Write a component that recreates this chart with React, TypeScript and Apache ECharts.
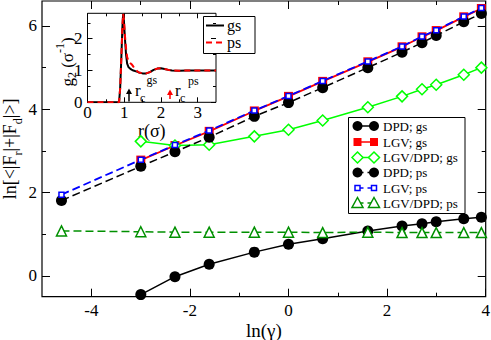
import React, { useEffect, useRef } from "react";
import * as echarts from "echarts";

// ---- main plot data (x = ln(gamma)) ----
const lnGamma = [-4.605, -2.996, -2.303, -1.609, -0.693, 0, 0.693, 1.609, 2.303, 2.708, 2.996, 3.555, 3.912];
const dpdGs = [null, -0.45, -0.02, 0.28, 0.57, 0.76, 0.89, 1.08, 1.2, 1.25, 1.3, 1.37, 1.41];
const lgvGs = [null, 2.78, 3.13, 3.47, 3.96, 4.31, 4.67, 5.14, 5.5, 5.74, 5.89, 6.22, 6.42];
const lgvDpdGs = [null, 3.23, 3.13, 3.15, 3.35, 3.51, 3.73, 4.05, 4.31, 4.48, 4.59, 4.83, 5.0];
const dpdPs = [1.81, 2.63, 2.98, 3.33, 3.83, 4.16, 4.52, 5.0, 5.37, 5.6, 5.77, 6.1, 6.3];
const lgvPs = [1.95, 2.79, 3.14, 3.49, 3.97, 4.32, 4.68, 5.15, 5.51, 5.75, 5.9, 6.23, 6.43];
const lgvDpdPs = [1.08, 1.06, 1.05, 1.05, 1.05, 1.05, 1.04, 1.05, 1.04, 1.04, 1.04, 1.04, 1.04];

// ---- inset data: g2(r) ----
const rVals = [0, 0.5, 0.86, 0.89, 0.92, 0.95, 0.97, 0.99, 1.02, 1.05, 1.08, 1.12, 1.16, 1.2, 1.25, 1.3, 1.4, 1.5, 1.6, 1.7, 1.8, 1.9, 2.0, 2.1, 2.2, 2.3, 2.5, 2.7, 3.0, 3.5];
const gGs = [0, 0, 0, 0.45, 1.35, 2.35, 2.78, 2.6, 2.0, 1.5, 1.22, 1.1, 1.06, 1.03, 1.0, 0.98, 0.94, 0.91, 0.91, 0.95, 1.02, 1.06, 1.07, 1.05, 1.02, 1.0, 0.99, 1.0, 1.0, 1.0];
const gPs = [0, 0, 0, 0.45, 1.35, 2.35, 2.78, 2.62, 2.1, 1.7, 1.42, 1.29, 1.24, 1.2, 1.12, 1.03, 0.94, 0.91, 0.91, 0.95, 1.02, 1.06, 1.07, 1.05, 1.02, 1.0, 0.99, 1.0, 1.0, 1.0];

// ---- ticks ----
const xMajor = [-4, -2, 0, 2, 4];
const xMinor = [-3, -1, 1, 3];
const yMajor = [0, 2, 4, 6];
const yMinor = [1, 3, 5];
const inXMajor = [0, 1, 2, 3];
const inXMinor = [0.5, 1.5, 2.5];
const inYMajor = [0, 1, 2];
const inYMinor = [0.5, 1.5, 2.5];

const FONT = "Liberation Serif";
const GREEN = "#00ff00";
const DKGREEN = "#009000";

const pairs = (ys: (number | null)[]) =>
  lnGamma.map((x, i) => [x, ys[i]]).filter((p) => p[1] !== null);
const curve = (ys: number[]) => rVals.map((r, i) => [r, ys[i]]);

function axis(grid: number, min: number, max: number, pos: string, ticks: number[], len: number, labels: boolean, margin: number, extra: any = {}) {
  return {
    type: "value",
    gridIndex: grid,
    min,
    max,
    position: pos,
    nameMoveOverlap: false,
    axisLine: { show: false, onZero: false },
    splitLine: { show: false },
    axisTick: { show: true, inside: true, length: len, customValues: ticks, lineStyle: { color: "#000", width: 1 } },
    axisLabel: labels
      ? { show: true, customValues: ticks, margin, color: "#000", fontFamily: FONT, fontSize: 17 }
      : { show: false },
    ...extra,
  };
}

export default function App() {
  const ref = useRef<HTMLDivElement>(null);
  useEffect(() => {
    if (!ref.current) return;
    const chart = echarts.init(ref.current, null, { renderer: "svg" });

    const legendRows = [
      { name: "DPD; gs", y: 126, color: "#000", dash: false, sym: "circle" },
      { name: "LGV; gs", y: 142, color: "#ff0000", dash: false, sym: "square" },
      { name: "LGV/DPD; gs", y: 157.5, color: GREEN, dash: false, sym: "diamond" },
      { name: "DPD; ps", y: 172.5, color: "#000", dash: true, sym: "circle" },
      { name: "LGV; ps", y: 188, color: "#0000ff", dash: true, sym: "small" },
      { name: "LGV/DPD; ps", y: 203, color: DKGREEN, dash: true, sym: "triangle" },
    ];
    const symbolEl = (sym: string, cx: number, cy: number, color: string) => {
      if (sym === "circle") return { type: "circle", shape: { cx, cy, r: 5 }, style: { fill: color } };
      if (sym === "square") return { type: "rect", shape: { x: cx - 4, y: cy - 4, width: 8, height: 8 }, style: { fill: color } };
      if (sym === "small") return { type: "rect", shape: { x: cx - 2.5, y: cy - 2.5, width: 5, height: 5 }, style: { fill: "#fff", stroke: color, lineWidth: 1.5 } };
      if (sym === "diamond") return { type: "polygon", shape: { points: [[cx, cy - 5.5], [cx + 5.5, cy], [cx, cy + 5.5], [cx - 5.5, cy]] }, style: { fill: "#fff", stroke: color, lineWidth: 1.5 } };
      return { type: "polygon", shape: { points: [[cx, cy - 5.5], [cx + 5.5, cy + 4.5], [cx - 5.5, cy + 4.5]] }, style: { fill: "#fff", stroke: color, lineWidth: 1.5 } };
    };
    const legendEls: any[] = [
      { type: "rect", shape: { x: 348.5, y: 117.5, width: 116.5, height: 96 }, style: { fill: "#fff", stroke: "#000", lineWidth: 1 } },
    ];
    legendRows.forEach((r) => {
      legendEls.push({ type: "line", shape: { x1: 357.5, y1: r.y, x2: 374, y2: r.y }, style: { stroke: r.color, lineWidth: 1.5, lineDash: r.dash ? [6, 4] : null } });
      legendEls.push(symbolEl(r.sym, 357.5, r.y, r.color));
      legendEls.push(symbolEl(r.sym, 374, r.y, r.color));
      legendEls.push({ type: "text", x: 383, y: r.y, style: { text: r.name, fontFamily: FONT, fontSize: 13, fill: "#000", verticalAlign: "middle", align: "left" } });
    });

    const insetEls: any[] = [
      { type: "rect", shape: { x: 203.5, y: 16.5, width: 51.5, height: 37 }, style: { fill: "#fff", stroke: "#000", lineWidth: 1 } },
      { type: "line", shape: { x1: 206, y1: 25.5, x2: 224, y2: 25.5 }, style: { stroke: "#000", lineWidth: 2 } },
      { type: "line", shape: { x1: 206, y1: 42.5, x2: 224, y2: 42.5 }, style: { stroke: "#ff0000", lineWidth: 2, lineDash: [6, 4] } },
      { type: "text", x: 227, y: 25.5, style: { text: "gs", fontFamily: FONT, fontSize: 16, fill: "#000", verticalAlign: "middle" } },
      { type: "text", x: 227, y: 42.5, style: { text: "ps", fontFamily: FONT, fontSize: 16, fill: "#000", verticalAlign: "middle" } },
      // arrows
      { type: "line", shape: { x1: 129, y1: 101.5, x2: 129, y2: 92 }, style: { stroke: "#000", lineWidth: 1.5 } },
      { type: "polygon", shape: { points: [[129, 88.5], [132, 94], [126, 94]] }, style: { fill: "#000" } },
      { type: "line", shape: { x1: 170, y1: 99, x2: 170, y2: 93 }, style: { stroke: "#ff0000", lineWidth: 1.5 } },
      { type: "polygon", shape: { points: [[170, 89.5], [173, 95], [167, 95]] }, style: { fill: "#ff0000" } },
      { type: "text", x: 135, y: 90, style: { text: "r", fontFamily: FONT, fontSize: 17, fill: "#000", verticalAlign: "middle" } },
      { type: "text", x: 140, y: 98, style: { text: "c", fontFamily: FONT, fontSize: 12, fill: "#000", verticalAlign: "middle" } },
      { type: "text", x: 146.5, y: 80, style: { text: "gs", fontFamily: FONT, fontSize: 12, fill: "#000", verticalAlign: "middle" } },
      { type: "text", x: 175, y: 90, style: { text: "r", fontFamily: FONT, fontSize: 17, fill: "#000", verticalAlign: "middle" } },
      { type: "text", x: 180, y: 98, style: { text: "c", fontFamily: FONT, fontSize: 12, fill: "#000", verticalAlign: "middle" } },
      { type: "text", x: 188, y: 81, style: { text: "ps", fontFamily: FONT, fontSize: 12, fill: "#000", verticalAlign: "middle" } },
      // inset y-axis title
      {
        type: "text", x: 66, y: 62, rotation: Math.PI / 2,
        style: {
          text: "{a|g}{b|2}{a| (σ}{c|-1}{a|)}", align: "center", verticalAlign: "middle", fill: "#000",
          fontFamily: FONT, fontSize: 17,
          rich: {
            a: { fontFamily: FONT, fontSize: 17, lineHeight: 17, padding: [6, 0, 3, 0], fill: "#000" },
            b: { fontFamily: FONT, fontSize: 12, lineHeight: 12, padding: [13, 0, 1, 0], fill: "#000" },
            c: { fontFamily: FONT, fontSize: 12, lineHeight: 12, padding: [1, 0, 13, 0], fill: "#000" },
          },
        },
      },
    ];

    const option: any = {
      animation: false,
      backgroundColor: "#fff",
      textStyle: { fontFamily: FONT },
      grid: [
        { left: 42, top: 1, width: 443.7, height: 295.7, outerBoundsMode: "none", containLabel: false, show: true, borderColor: "#000", borderWidth: 1.2, backgroundColor: "transparent" },
        { left: 87.5, top: 13.3, width: 128.5, height: 89, outerBoundsMode: "none", containLabel: false, show: true, borderColor: "#000", borderWidth: 1, backgroundColor: "#fff" },
      ],
      xAxis: [
        axis(0, -5, 4, "bottom", xMajor, 8, true, 5, {
          name: "ln(γ)", nameLocation: "middle", nameGap: 24,
          nameTextStyle: { fontFamily: FONT, fontSize: 19, color: "#000" },
        }),
        axis(0, -5, 4, "bottom", xMinor, 4, false, 0),
        axis(0, -5, 4, "top", xMajor, 8, false, 0),
        axis(0, -5, 4, "top", xMinor, 4, false, 0),
        axis(1, 0, 3.5, "bottom", inXMajor, 5, true, 2, {
          name: "r(σ)", nameLocation: "middle", nameGap: 20,
          nameTextStyle: { fontFamily: FONT, fontSize: 18, color: "#000" },
        }),
        axis(1, 0, 3.5, "bottom", inXMinor, 3, false, 0),
        axis(1, 0, 3.5, "top", inXMajor, 5, false, 0),
        axis(1, 0, 3.5, "top", inXMinor, 3, false, 0),
      ],
      yAxis: [
        axis(0, -0.5, 6.6, "left", yMajor, 8, true, 5, {
          name: "{a|ln[<|F}{b|r}{a||+|F}{b|d}{a||>]}",
          nameLocation: "middle", nameGap: 21, nameRotate: 90,
          nameTextStyle: {
            fontFamily: FONT, fontSize: 18, color: "#000",
            rich: {
              a: { fontFamily: FONT, fontSize: 18, lineHeight: 18, padding: [2, 0, 6, 0], color: "#000" },
              b: { fontFamily: FONT, fontSize: 12, lineHeight: 12, padding: [13, 0, 1, 0], color: "#000" },
            },
          },
        }),
        axis(0, -0.5, 6.6, "left", yMinor, 4, false, 0),
        axis(0, -0.5, 6.6, "right", yMajor, 8, false, 0),
        axis(0, -0.5, 6.6, "right", yMinor, 4, false, 0),
        axis(1, 0, 2.8, "left", inYMajor, 5, true, 5),
        axis(1, 0, 2.8, "left", inYMinor, 3, false, 0),
        axis(1, 0, 2.8, "right", inYMajor, 5, false, 0),
        axis(1, 0, 2.8, "right", inYMinor, 3, false, 0),
      ],
      series: [
        {
          name: "DPD; gs", type: "line", xAxisIndex: 0, yAxisIndex: 0, data: pairs(dpdGs),
          symbol: "circle", symbolSize: 11, itemStyle: { color: "#000" },
          lineStyle: { color: "#000", width: 1.5 }, z: 3,
        },
        {
          name: "LGV; gs", type: "line", xAxisIndex: 0, yAxisIndex: 0, data: pairs(lgvGs),
          symbol: "rect", symbolSize: 9, itemStyle: { color: "#ff0000" },
          lineStyle: { color: "#ff0000", width: 1.8 }, z: 3,
        },
        {
          name: "LGV/DPD; gs", type: "line", xAxisIndex: 0, yAxisIndex: 0, data: pairs(lgvDpdGs),
          symbol: "diamond", symbolSize: [11, 11], itemStyle: { color: "#fff", borderColor: GREEN, borderWidth: 1.5 },
          lineStyle: { color: GREEN, width: 1.5 }, z: 3,
        },
        {
          name: "DPD; ps", type: "line", xAxisIndex: 0, yAxisIndex: 0, data: pairs(dpdPs),
          symbol: "circle", symbolSize: 11, itemStyle: { color: "#000" },
          lineStyle: { color: "#000", width: 1.5, type: [8, 4] }, z: 3,
        },
        {
          name: "LGV; ps", type: "line", xAxisIndex: 0, yAxisIndex: 0, data: pairs(lgvPs),
          symbol: "rect", symbolSize: 5, itemStyle: { color: "#fff", borderColor: "#0000ff", borderWidth: 1.5 },
          lineStyle: { color: "#0000ff", width: 1.8, type: [8, 4] }, z: 4,
        },
        {
          name: "LGV/DPD; ps", type: "line", xAxisIndex: 0, yAxisIndex: 0, data: pairs(lgvDpdPs),
          symbol: "triangle", symbolSize: 10, itemStyle: { color: "#fff", borderColor: DKGREEN, borderWidth: 1.5 },
          lineStyle: { color: DKGREEN, width: 1.5, type: [8, 4] }, z: 3,
        },
        {
          name: "gs", type: "line", xAxisIndex: 4, yAxisIndex: 4, data: curve(gGs),
          showSymbol: false, symbol: "none", lineStyle: { color: "#000", width: 2 }, z: 5,
        },
        {
          name: "ps", type: "line", xAxisIndex: 4, yAxisIndex: 4, data: curve(gPs),
          showSymbol: false, symbol: "none", lineStyle: { color: "#ff0000", width: 2, type: [6, 4] }, z: 6,
        },
      ],
      graphic: [
        { type: "group", z: 100, children: legendEls },
        { type: "group", z: 100, children: insetEls },
      ],
    };
    chart.setOption(option);
    return () => chart.dispose();
  }, []);
  return <div ref={ref} style={{ width: 491, height: 340, position: "absolute", left: 0, top: 0 }} />;
}
